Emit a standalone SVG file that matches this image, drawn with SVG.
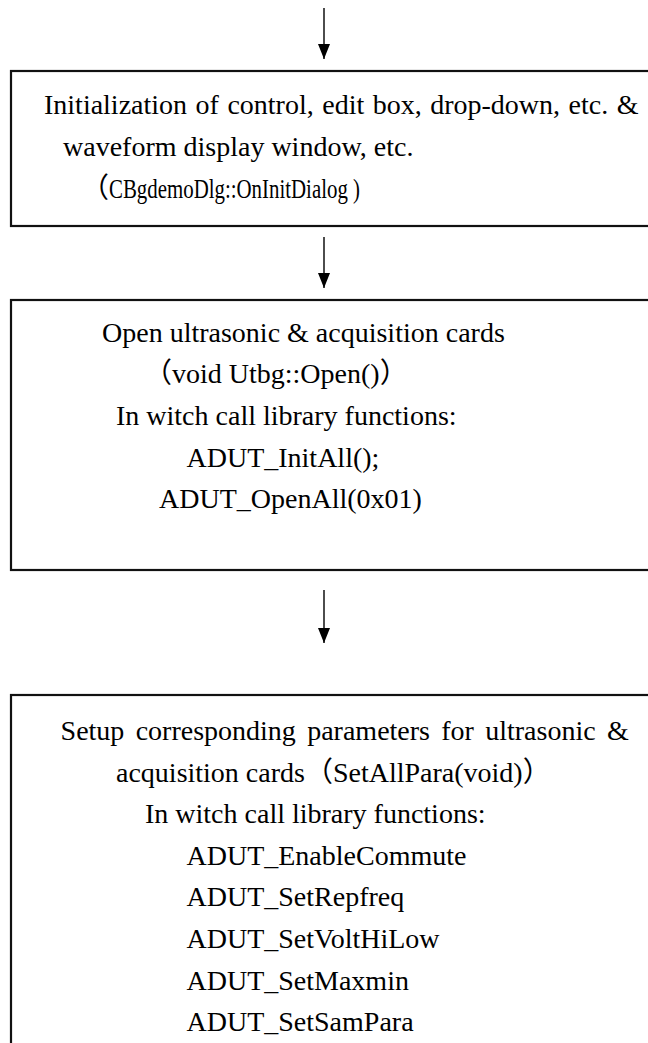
<svg xmlns="http://www.w3.org/2000/svg" width="648" height="1043" viewBox="0 0 648 1043">
<style>
.box{fill:#fff;stroke:#111;stroke-width:2.2}
.t{font-family:"Liberation Serif","Noto Sans CJK SC",serif;font-size:28px;fill:#000}
.c{stroke:#000;stroke-width:1.4;fill:none}
</style>
<defs>
<marker id="ah" viewBox="0 0 15 12" markerWidth="15" markerHeight="12" refX="15" refY="6" orient="auto" markerUnits="userSpaceOnUse">
<path d="M0,0 L15,6 L0,12 z" fill="#000"/>
</marker>
</defs>
<rect width="648" height="1043" fill="#fff"/>
<g id="connectors">
<path class="c" d="M324,8 L324,59" marker-end="url(#ah)"/>
<path class="c" d="M324,237 L324,288" marker-end="url(#ah)"/>
<path class="c" d="M324,590 L324,643" marker-end="url(#ah)"/>
</g>
<g id="node-init">
<rect class="box" x="11" y="71" width="660" height="155"/>
<text class="t" x="44" y="114" word-spacing="1.5">Initialization of control, edit box, drop-down, etc. &amp;</text>
<text class="t" x="63" y="156">waveform display window, etc.</text>
<text class="t" x="81" y="198">（</text>
<text class="t" x="109" y="198" textLength="251" lengthAdjust="spacingAndGlyphs">CBgdemoDlg::OnInitDialog )</text>
</g>
<g id="node-open">
<rect class="box" x="11" y="300" width="660" height="270"/>
<text class="t" x="102" y="342">Open ultrasonic &amp; acquisition cards</text>
<text class="t" x="144" y="383">（void Utbg::Open()）</text>
<text class="t" x="116" y="425">In witch call library functions:</text>
<text class="t" x="186.5" y="467">ADUT_InitAll();</text>
<text class="t" x="159" y="508">ADUT_OpenAll(0x01)</text>
</g>
<g id="node-setup">
<rect class="box" x="11" y="695" width="660" height="400"/>
<text class="t" y="740"><tspan x="60.6">Setup</tspan><tspan x="135.7">corresponding</tspan><tspan x="307.2">parameters</tspan><tspan x="441.3">for</tspan><tspan x="485.2">ultrasonic</tspan><tspan x="606.9">&amp;</tspan></text>
<text class="t" x="116" y="782">acquisition cards（SetAllPara(void)）</text>
<text class="t" x="145" y="823">In witch call library functions:</text>
<text class="t" x="186.5" y="865">ADUT_EnableCommute</text>
<text class="t" x="186.5" y="906">ADUT_SetRepfreq</text>
<text class="t" x="186.5" y="948">ADUT_SetVoltHiLow</text>
<text class="t" x="186.5" y="990">ADUT_SetMaxmin</text>
<text class="t" x="186.5" y="1031">ADUT_SetSamPara</text>
</g>
</svg>
